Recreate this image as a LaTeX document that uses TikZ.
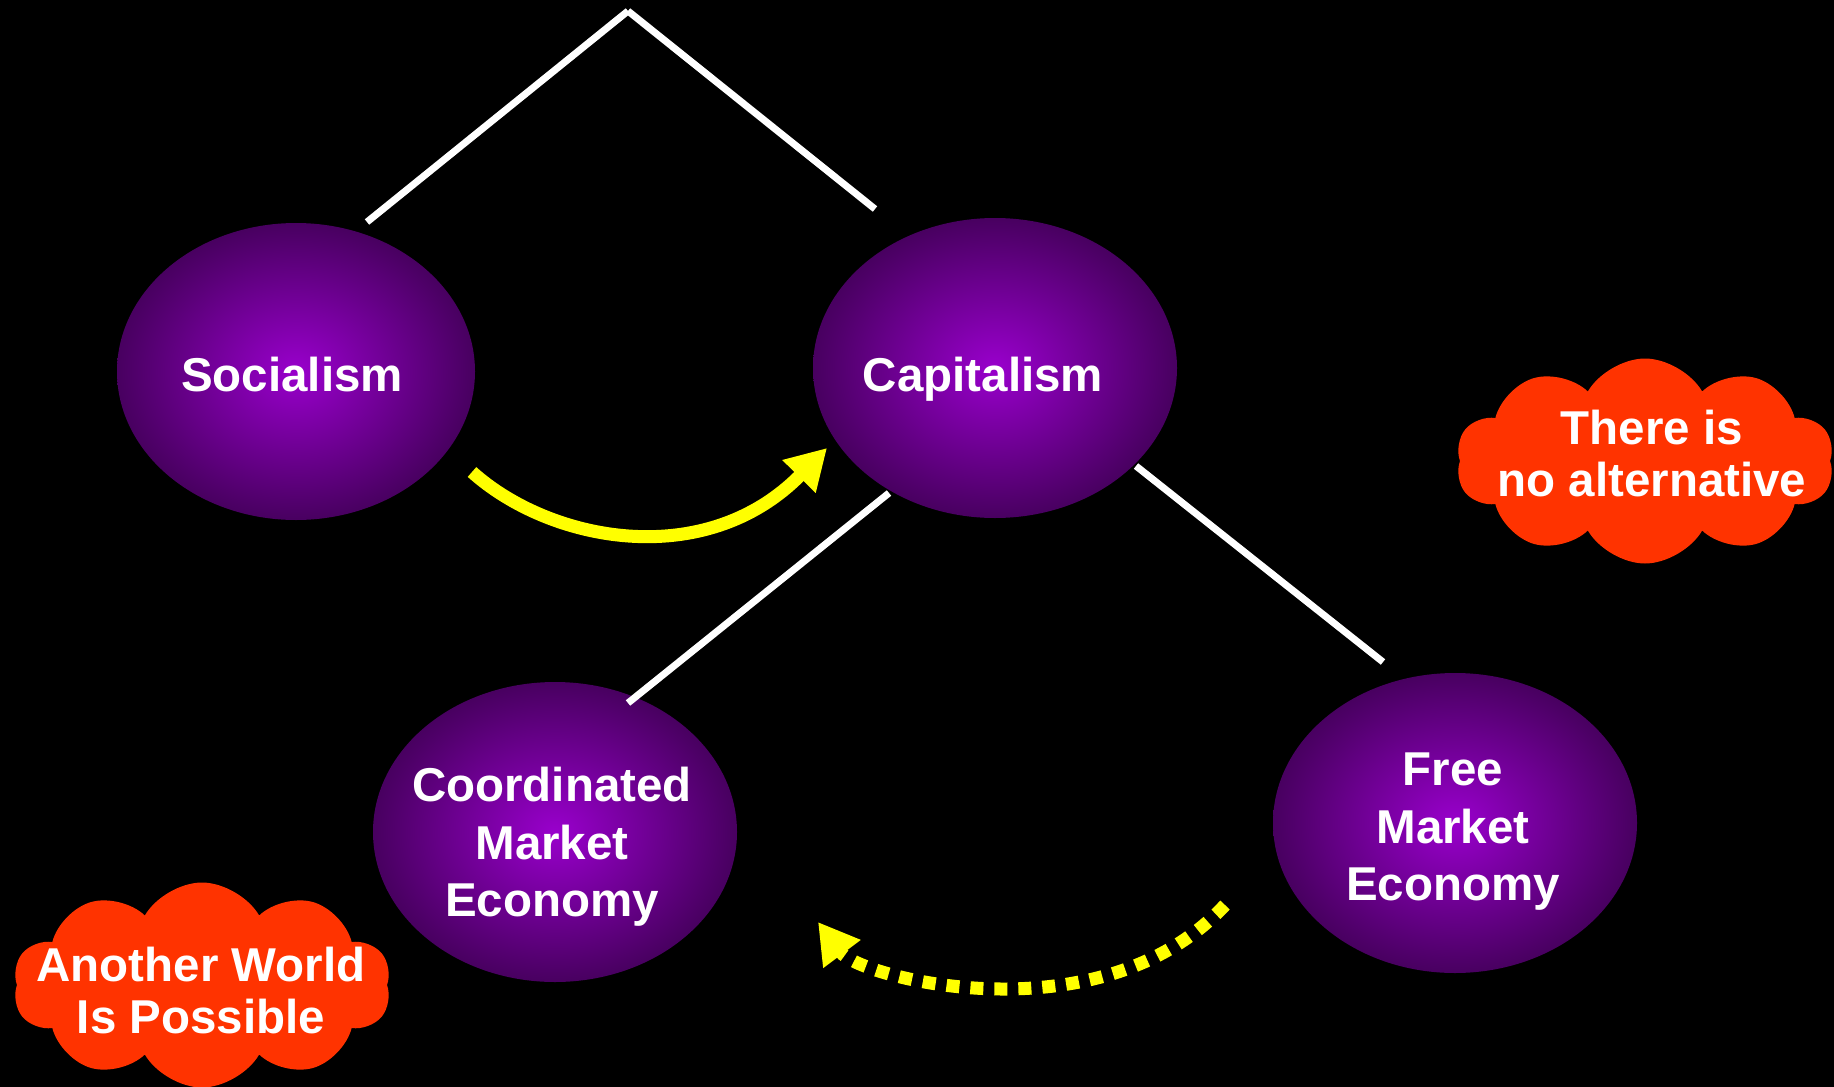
\documentclass[tikz,border=0pt]{standalone}
\usepackage{fontspec}
\setmainfont{Liberation Sans}
\usetikzlibrary{shapes.geometric,shapes.symbols,arrows.meta}
\definecolor{purpin}{RGB}{153,0,204}
\definecolor{purpout}{RGB}{72,0,96}
\definecolor{cloudred}{RGB}{255,51,0}
\definecolor{flowyellow}{RGB}{255,255,0}
\tikzset{
  eco/.style={ellipse, minimum width=364pt, minimum height=300pt, inner sep=0pt,
    inner color=purpin, outer color=purpout},
  ecotext/.style={text=white, inner sep=0pt, align=center,
    font=\fontsize{47.5}{57.5}\selectfont\bfseries},
  talk/.style={cloud, cloud puffs=10, cloud puff arc=120, cloud ignores aspect,
    fill=cloudred, minimum width=378pt, minimum height=205pt, inner sep=0pt},
  talktext/.style={text=white, inner sep=0pt, align=center,
    font=\fontsize{47.5}{52}\selectfont\bfseries},
  link/.style={white, line width=7pt},
  flow/.style={flowyellow, line width=13pt, -{Triangle[length=40pt,width=44pt]}},
  flowdots/.style={flowyellow, line width=13pt, dash pattern=on 13pt off 11pt,
    -{Triangle[length=40pt,width=44pt]}}
}
\begin{document}
\begin{tikzpicture}[x=1pt,y=-1pt]
\fill[black] (0,0) rectangle (1834,1087);
\useasboundingbox (0,0) rectangle (1834,1087);

% ellipses
\node[eco, minimum width=358pt, minimum height=297pt] (soc) at (296,371.5) {};
\node[eco] (cap) at (995,368) {};
\node[eco] (cme) at (555,832) {};
\node[eco] (fme) at (1455,823) {};

\node[ecotext] (soct) at (292,375) {Socialism};
\node[ecotext] (capt) at (983,379.5) {Capitalism};
\node[ecotext] (cmet) at (552,847) {Coordinated\\Market\\Economy};
\node[ecotext] (fmet) at (1453,832) {Free\\Market\\Economy};

% clouds
\node[talk] (tina) at (1645,461) {};
\node[talktext] (tinat) at (1652,454) {There is\\no alternative};
\node[talk] (awip) at (202,985) {};
\node[talktext] (awipt) at (201,991) {Another World\\Is Possible};

% tree lines
\coordinate (apex) at (628,11);
\coordinate (socTop) at (367,222);
\coordinate (capTop) at (875,209);
\coordinate (capLL) at (889,493);
\coordinate (cmeTop) at (628,703);
\coordinate (capLR) at (1136,466);
\coordinate (fmeTop) at (1383,662);
\draw[link] (apex) -- (socTop);
\draw[link] (apex) -- (capTop);
\draw[link] (capLL) -- (cmeTop);
\draw[link] (capLR) -- (fmeTop);

% arrows
\coordinate (socOut) at (472,472);
\coordinate (capIn) at (827,448);
\draw[flow] (socOut) .. controls (550,542) and (705,572) .. (capIn);
\coordinate (fmeOut) at (1225,905);
\coordinate (cmeIn) at (818,922);
\draw[flowdots] (fmeOut) .. controls (1100,1040) and (860,978) .. (cmeIn);
\end{tikzpicture}
\end{document}
